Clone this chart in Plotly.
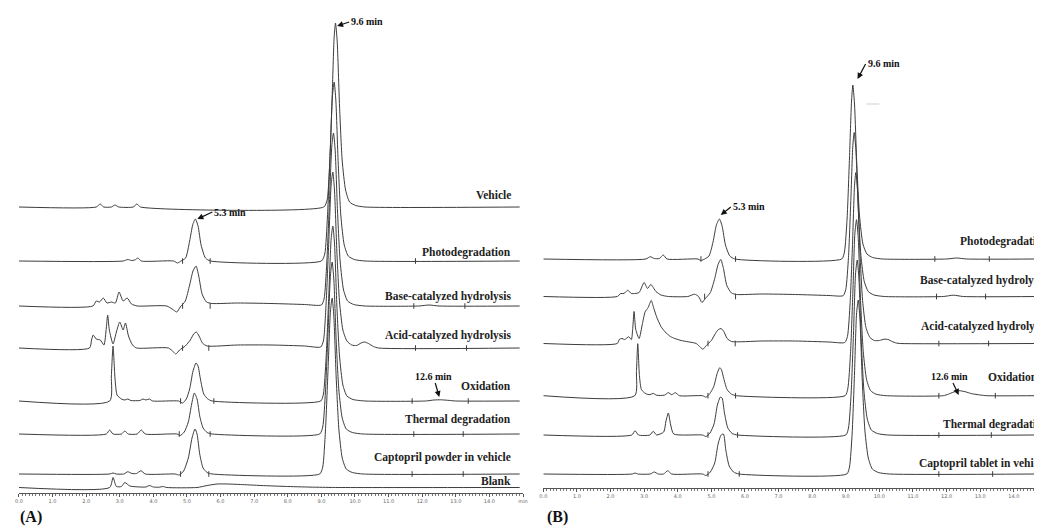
import plotly.graph_objects as go

# ---------------- DATA (time in min, signal in detector units) ----------------
# Panel A
A_VEH_T = [0, 2.3, 2.42, 2.52, 2.75, 2.86, 2.97, 3.4, 3.51, 3.62, 9.07, 9.17, 9.25, 9.32, 9.38, 9.42, 9.47, 9.54, 9.62, 9.72, 9.84, 10.02, 10.3, 14.9]
A_VEH_V = [0, 0, 3, 0, 0, 2, 0, 0, 3, 0, 0, 7, 46, 110, 170, 184, 166, 101, 46, 17, 5, 1.5, 0, 0]

A_PHO_T = [0, 3.1, 3.24, 3.35, 3.45, 3.54, 3.64, 4.6, 4.72, 4.82, 4.96, 5.08, 5.17, 5.25, 5.33, 5.42, 5.55, 5.7, 9.0, 9.1, 9.18, 9.26, 9.33, 9.38, 9.43, 9.5, 9.58, 9.68, 9.8, 9.98, 10.3, 14.9]
A_PHO_V = [0, 0, 1.5, 0.5, 1, 3, 0, 0, -2, 0, 3, 20, 36, 42, 35, 16, 3, 0, 0, 7, 44, 107, 165, 179, 161, 98, 45, 16, 5, 1.5, 0, 0]

A_BAS_T = [0, 2.2, 2.3, 2.4, 2.51, 2.62, 2.75, 2.87, 2.98, 3.1, 3.22, 3.35, 3.52, 4.4, 4.6, 4.7, 4.8, 4.95, 5.08, 5.18, 5.27, 5.35, 5.45, 5.58, 5.75, 6.5, 7.5, 8.5, 9.0, 9.08, 9.16, 9.24, 9.31, 9.36, 9.41, 9.48, 9.56, 9.66, 9.78, 9.96, 10.3, 11.9, 12.2, 12.5, 14.9]
A_BAS_V = [0, 0, 5, 4, 8, 3, 4, 3, 14, 5, 8, 2, 0, 0, -4, -6, -1, 5, 21, 35, 40, 30, 12, 4, 2.5, 3, 2.5, 1.5, 1, 7, 43, 104, 160, 173, 156, 95, 44, 16, 5, 1.5, 0, 0, 1, 0, 0]

A_ACI_T = [0, 2.1, 2.16, 2.21, 2.3, 2.42, 2.53, 2.6, 2.64, 2.69, 2.8, 2.9, 3.0, 3.1, 3.17, 3.26, 3.38, 3.5, 4.45, 4.6, 4.67, 4.78, 4.95, 5.1, 5.2, 5.28, 5.36, 5.46, 5.6, 6.5, 7.5, 8.5, 8.98, 9.06, 9.14, 9.22, 9.29, 9.34, 9.39, 9.46, 9.54, 9.64, 9.76, 9.9, 10.05, 10.18, 10.28, 10.4, 10.55, 10.7, 14.9]
A_ACI_V = [0, 0, 8, 13, 9, 8, 3, 20, 33, 18, 4, 16, 26, 18, 25, 12, 3, 0, 0, -4, -6, -2, 2, 8, 14, 16, 12, 5, 2, 3, 3, 2, 1, 7, 44, 106, 163, 176, 158, 97, 46, 18, 7, 3, 2.5, 5, 6, 4.5, 1.5, 0, 0]

A_OXI_T = [0, 2.7, 2.75, 2.8, 2.86, 2.92, 3.05, 3.15, 3.24, 3.33, 3.6, 3.69, 3.78, 3.88, 3.98, 4.75, 4.87, 4.98, 5.08, 5.18, 5.27, 5.33, 5.4, 5.5, 5.62, 5.75, 8.98, 9.06, 9.14, 9.22, 9.29, 9.34, 9.39, 9.46, 9.54, 9.64, 9.76, 9.94, 10.3, 12.1, 12.35, 12.55, 12.8, 13.0, 14.9]
A_OXI_V = [0, 0, 25, 55, 22, 6, 2, 1, 2, 0.5, 0.5, 2, 1, 2, 0, 0, -2, 2, 12, 30, 38, 35, 22, 7, 2, 0, 0, 7, 43, 105, 162, 175, 158, 96, 45, 16, 5, 1.5, 0, 0, 1, 1.2, 0.6, 0, 0]

A_THE_T = [0, 2.6, 2.7, 2.8, 3.05, 3.15, 3.25, 3.52, 3.64, 3.76, 4.7, 4.8, 4.92, 5.04, 5.14, 5.22, 5.3, 5.38, 5.48, 5.6, 5.75, 8.95, 9.04, 9.12, 9.2, 9.27, 9.32, 9.37, 9.44, 9.52, 9.62, 9.74, 9.92, 10.25, 14.9]
A_THE_V = [0, 0, 4, 0, 0, 3, 0, 0, 4, 0, 0, -1.5, 2, 12, 30, 41, 35, 18, 6, 1.5, 0, 0, 7, 42, 103, 159, 172, 155, 94, 44, 16, 5, 1.5, 0, 0]

A_CAP_T = [0, 2.7, 2.8, 2.9, 3.12, 3.24, 3.36, 3.5, 3.63, 3.76, 4.65, 4.77, 4.9, 5.04, 5.15, 5.24, 5.3, 5.38, 5.48, 5.6, 5.75, 8.95, 9.04, 9.12, 9.2, 9.27, 9.32, 9.37, 9.44, 9.52, 9.62, 9.74, 9.92, 10.25, 14.9]
A_CAP_V = [0, 0, 1, 0, 0, 2.3, 0.5, 0.5, 3.3, 0, 0, -1, 3, 16, 36, 45, 40, 20, 6, 1.5, 0, 0, 7, 43, 106, 163, 176, 158, 97, 45, 16, 5, 1.5, 0, 0]

A_BLK_T = [0, 2.7, 2.8, 2.9, 3.05, 3.15, 3.3, 3.6, 3.78, 3.88, 4.0, 4.18, 4.28, 4.4, 5.3, 5.6, 5.9, 6.2, 6.6, 7.2, 8.0, 8.8, 9.5, 14.9]
A_BLK_V = [0, 0, 10, 1, 1, 5, 1.5, 0.5, 0.5, 2, 0.5, 0.3, 1, 0, 0, 2, 3.5, 3.5, 3, 2, 1, 0.3, 0, 0]

# Panel B
B_PHO_T = [0, 3.05, 3.18, 3.3, 3.45, 3.57, 3.68, 4.6, 4.69, 4.8, 4.93, 5.05, 5.15, 5.24, 5.32, 5.42, 5.55, 5.7, 8.88, 8.96, 9.04, 9.11, 9.17, 9.21, 9.26, 9.33, 9.41, 9.51, 9.63, 9.8, 10.1, 12.0, 12.3, 12.6, 14.7]
B_PHO_V = [0, 0, 2.3, 0.5, 0.5, 4, 0, 0, -1.5, 0, 3, 17, 34, 40, 33, 14, 3, 0, 0, 7, 41, 101, 157, 174, 155, 93, 43, 15, 5, 1.5, 0, 0, 1, 0, 0]

B_BAS_T = [0, 2.2, 2.3, 2.4, 2.51, 2.62, 2.73, 2.85, 3.0, 3.1, 3.2, 3.35, 3.5, 3.72, 4.3, 4.5, 4.62, 4.72, 4.82, 4.97, 5.1, 5.2, 5.28, 5.36, 5.46, 5.6, 5.75, 6.5, 7.5, 8.5, 8.92, 9.0, 9.08, 9.15, 9.21, 9.25, 9.3, 9.37, 9.45, 9.55, 9.67, 9.84, 10.15, 11.9, 12.2, 12.5, 14.7]
B_BAS_V = [0, 0, 3, 3, 6.3, 3, 3, 4, 14, 8, 12, 5, 1.5, 0, 0, 2.3, 0, -6, -2, 4, 18, 32, 37, 28, 11, 3.5, 2, 2.5, 2, 1, 0.8, 7, 39, 96, 151, 164, 147, 89, 41, 15, 5, 1.5, 0, 0, 1.3, 0, 0]

B_ACI_T = [0, 2.2, 2.26, 2.34, 2.42, 2.54, 2.62, 2.66, 2.70, 2.75, 2.85, 2.95, 3.03, 3.12, 3.21, 3.28, 3.37, 3.5, 3.62, 3.78, 3.91, 4.1, 4.31, 4.55, 4.68, 4.75, 4.85, 5.0, 5.12, 5.21, 5.29, 5.37, 5.47, 5.6, 6.5, 7.5, 8.5, 8.97, 9.05, 9.13, 9.2, 9.26, 9.3, 9.35, 9.42, 9.5, 9.6, 9.72, 9.85, 10.0, 10.14, 10.26, 10.38, 10.5, 10.62, 14.7]
B_ACI_V = [0, 0, 4, 5, 4, 6.7, 4, 15, 32, 14, 5, 20, 31.7, 36, 43, 36, 26.7, 17, 11.7, 7, 5, 3, 1.7, 0, -4, -5.7, -2, 3, 10, 14, 15, 12, 5, 2, 2.5, 2.5, 1.5, 1, 7, 41, 99, 158, 171, 153, 92, 43, 16, 6, 3, 3, 4.3, 4, 2, 0.5, 0, 0]

B_OXI_T = [0, 2.72, 2.77, 2.81, 2.86, 2.92, 3.05, 3.17, 3.27, 3.37, 3.6, 3.72, 3.82, 3.93, 4.05, 4.74, 4.84, 4.95, 5.07, 5.17, 5.25, 5.3, 5.37, 5.47, 5.6, 5.75, 8.98, 9.06, 9.14, 9.21, 9.27, 9.32, 9.37, 9.44, 9.52, 9.62, 9.74, 9.9, 10.2, 11.9, 12.05, 12.2, 12.37, 12.55, 12.75, 13.0, 13.2, 14.7]
B_OXI_V = [0, 0, 24, 52, 20, 6, 2, 1, 2.3, 0.5, 0.5, 3, 1, 3, 0, 0, -1.5, 2, 9, 22, 28, 26, 17, 6, 1.5, 0, 0, 7, 42, 102, 162, 176, 158, 95, 44, 16, 5, 1.5, 0, 0, 1.5, 3.5, 5, 4, 2, 0.7, 0, 0]

B_THE_T = [0, 2.63, 2.73, 2.83, 3.17, 3.27, 3.37, 3.58, 3.65, 3.72, 3.79, 3.88, 4.74, 4.84, 4.96, 5.08, 5.18, 5.27, 5.32, 5.39, 5.49, 5.62, 5.78, 9.0, 9.08, 9.16, 9.23, 9.29, 9.34, 9.39, 9.46, 9.54, 9.64, 9.76, 9.94, 10.25, 14.7]
B_THE_V = [0, 0, 4.3, 0, 0, 3.7, 0, 3, 14, 22, 10, 1, 0, -1.5, 2, 11, 30, 38, 37, 22, 7, 1.5, 0, 0, 7, 42, 102, 161, 175, 157, 95, 44, 16, 5, 1.5, 0, 0]

B_CAP_T = [0, 2.65, 2.73, 2.81, 3.18, 3.3, 3.42, 3.58, 3.70, 3.82, 4.74, 4.84, 4.97, 5.1, 5.2, 5.29, 5.36, 5.43, 5.53, 5.66, 5.82, 9.03, 9.11, 9.19, 9.26, 9.32, 9.37, 9.42, 9.49, 9.57, 9.67, 9.79, 9.97, 10.3, 14.7]
B_CAP_V = [0, 0, 1, 0, 0, 2, 0, 0, 3.3, 0, 0, -1.5, 2, 11, 30, 39, 40, 24, 8, 2, 0, 0, 7, 41, 101, 160, 174, 156, 94, 43, 16, 5, 1.5, 0, 0]

# integration marks (min)
A_MARKS = [[], [4.87, 5.69, 11.8], [4.87, 5.69, 11.75, 13.27], [4.87, 5.65, 11.8, 13.32],
           [4.81, 5.8, 11.7, 13.37], [4.77, 5.69, 11.75, 13.22], [4.81, 5.65, 11.7, 13.22], []]
B_MARKS = [[4.69, 5.72, 11.65, 13.27], [4.8, 5.72, 11.7, 13.16], [4.9, 5.71, 11.77, 13.25],
           [4.9, 5.72, 11.77, 13.45], [4.9, 5.78, 11.77, 13.33], [4.9, 5.83, 11.77, 13.37]]

A_LABELS = ["Vehicle", "Photodegradation", "Base-catalyzed hydrolysis", "Acid-catalyzed hydrolysis",
            "Oxidation", "Thermal degradation", "Captopril powder in vehicle", "Blank"]
B_LABELS = ["Photodegradation", "Base-catalyzed hydrolysis", "Acid-catalyzed hydrolysis",
            "Oxidation", "Thermal degradation", "Captopril tablet in vehicle"]

TICK_VALS = list(range(0, 16))
TICK_TEXT = ["0.0", "1.0", "2.0", "3.0", "4.0", "5.0", "6.0", "7.0", "8.0", "9.0", "10.0",
             "11.0", "12.0", "13.0", "14.0", "min"]

# ---------------- LAYOUT (reference pixels) ----------------
WIN_W, WIN_H = 1042, 528
SH = 8                      # page body margin of the html page
W, H = WIN_W - SH, WIN_H - SH

A_SERIES = [(A_VEH_T, A_VEH_V), (A_PHO_T, A_PHO_V), (A_BAS_T, A_BAS_V), (A_ACI_T, A_ACI_V),
            (A_OXI_T, A_OXI_V), (A_THE_T, A_THE_V), (A_CAP_T, A_CAP_V), (A_BLK_T, A_BLK_V)]
B_SERIES = [(B_PHO_T, B_PHO_V), (B_BAS_T, B_BAS_V), (B_ACI_T, B_ACI_V),
            (B_OXI_T, B_OXI_V), (B_THE_T, B_THE_V), (B_CAP_T, B_CAP_V)]
A_AXIS_PX, B_AXIS_PX = 493, 488
A_BASE_PX = [207, 261, 306, 348, 401, 434, 474, 487.5]
B_BASE_PX = [259, 296.5, 343.5, 395.7, 435, 474]
A_LABEL_Y = [195, 252, 296, 335, 386, 419, 457, 481]
B_LABEL_XY = [(962, 242), (922, 280), (923, 326), (991, 377), (945, 424), (921, 463)]

LINE = "#3c3c3c"
SERIF = "Liberation Serif"

fig = go.Figure()

def add_panel(series, base_px, axis_px, marks, xa, ya):
    for (t, v), b, mk in zip(series, base_px, marks):
        off = axis_px - b
        fig.add_trace(go.Scatter(x=t, y=[off + s for s in v], mode="lines",
                                 line=dict(color=LINE, width=1, shape="spline", smoothing=0.6),
                                 xaxis=xa, yaxis=ya, hoverinfo="skip", showlegend=False))
        if mk:
            fig.add_trace(go.Scatter(x=mk, y=[off] * len(mk), mode="markers",
                                     marker=dict(symbol="line-ns", size=4, line=dict(color=LINE, width=1)),
                                     xaxis=xa, yaxis=ya, hoverinfo="skip", showlegend=False))

add_panel(A_SERIES, A_BASE_PX, A_AXIS_PX, A_MARKS, "x", "y")
add_panel(B_SERIES, B_BASE_PX, B_AXIS_PX, B_MARKS, "x2", "y2")

a_x0, px_per_min = 15, 33.9
b_x0 = 544
xcommon = dict(showgrid=False, zeroline=False, showline=True, linecolor="#555", linewidth=1,
               ticks="outside", ticklen=3, tickcolor="#555", tickwidth=1,
               tickvals=TICK_VALS, ticktext=TICK_TEXT,
               tickfont=dict(size=5, color="#666", family="DejaVu Sans"),
               minor=dict(dtick=0.1, ticks="outside", ticklen=2, tickcolor="#777", tickwidth=0.6))
fig.update_layout(
    width=W, height=H, margin=dict(l=0, r=0, t=0, b=0),
    paper_bgcolor="white", plot_bgcolor="white",
    xaxis=dict(domain=[(a_x0 - SH) / W, (a_x0 + 15 * px_per_min - SH) / W], range=[0, 15], anchor="y", **xcommon),
    yaxis=dict(domain=[(WIN_H - A_AXIS_PX) / H, 1], range=[0, A_AXIS_PX - SH], visible=False),
    xaxis2=dict(domain=[(b_x0 - SH) / W, 1], range=[0, (WIN_W - b_x0) / px_per_min], anchor="y2", **xcommon),
    yaxis2=dict(domain=[(WIN_H - B_AXIS_PX) / H, 1], range=[0, B_AXIS_PX - SH], visible=False),
)

def px(x, y):
    return (x - SH) / W, 1 - (y - SH) / H

ann = []
for lab, y in zip(A_LABELS, A_LABEL_Y):
    xx, yy = px(513, y)
    ann.append(dict(x=xx, y=yy, xref="paper", yref="paper", text="<b>%s</b>" % lab, showarrow=False,
                    xanchor="right", yanchor="middle", font=dict(family=SERIF, size=11.5, color="#222")))
for lab, (x, y) in zip(B_LABELS, B_LABEL_XY):
    xx, yy = px(x, y)
    ann.append(dict(x=xx, y=yy, xref="paper", yref="paper", text="<b>%s</b>" % lab, showarrow=False,
                    xanchor="left", yanchor="middle", font=dict(family=SERIF, size=11.5, color="#222")))

# arrow annotations: (text, head_x, head_y, ax, ay, xanchor)
ARROWS = [("9.6 min", 336, 26, 12, -4, "left"), ("5.3 min", 195, 219, 15, -7, "left"),
          ("12.6 min", 439, 397, -6, -21, "center"),
          ("9.6 min", 861, 79, 8, -15, "left"), ("5.3 min", 723, 215, 10, -8, "left"),
          ("12.6 min", 963, 395, -9, -19, "center")]
for txt, hx, hy, ax, ay, xanc in ARROWS:
    xx, yy = px(hx, hy)
    ann.append(dict(x=xx, y=yy, xref="paper", yref="paper", text="<b>%s</b>" % txt, showarrow=True,
                    ax=ax, ay=ay, xanchor=xanc, yanchor="middle", arrowhead=2, arrowsize=1,
                    arrowwidth=1.2, arrowcolor="#111", standoff=0,
                    font=dict(family=SERIF, size=10, color="#111")))

for lab, x in (("(A)", 14), ("(B)", 546)):
    xx, yy = px(x, 517)
    ann.append(dict(x=xx, y=yy, xref="paper", yref="paper", text="<b>%s</b>" % lab, showarrow=False,
                    xanchor="left", yanchor="middle", font=dict(family=SERIF, size=16, color="#111")))
fig.update_layout(annotations=ann)

x0, y0 = px(870, 104)
x1, _ = px(883, 104)
fig.add_shape(type="line", xref="paper", yref="paper", x0=x0, x1=x1, y0=y0, y1=y0,
              line=dict(color="#cfcfcf", width=1))

fig.write_html("out.html")
